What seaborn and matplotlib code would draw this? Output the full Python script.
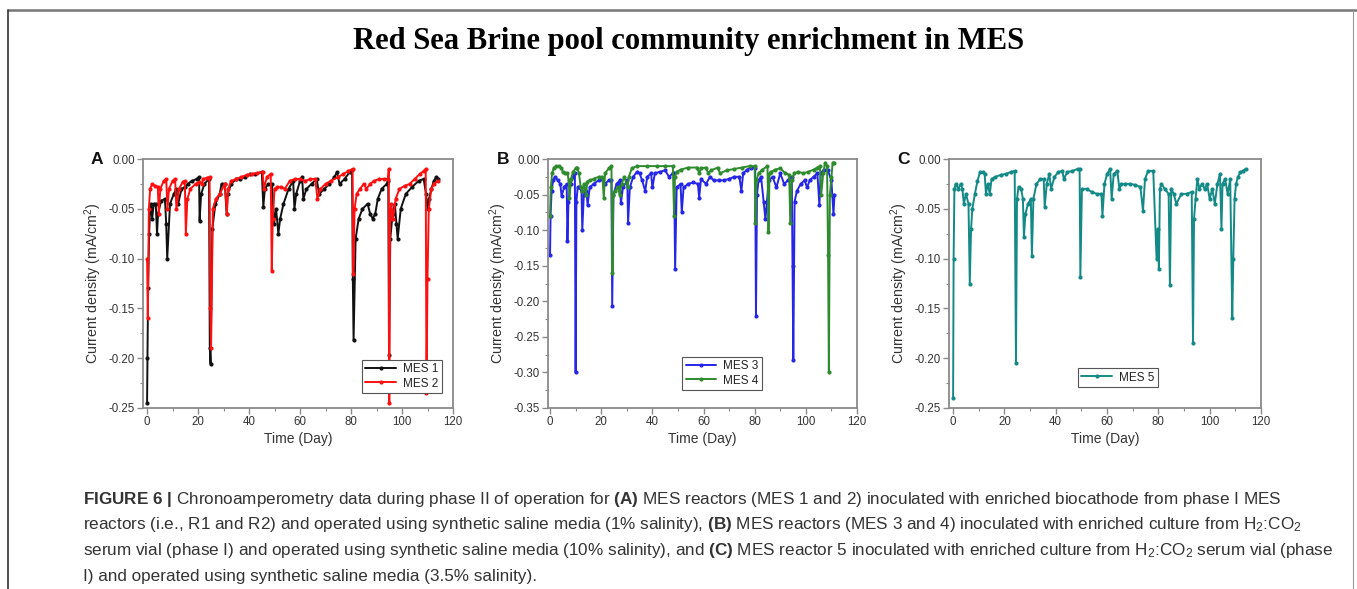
import matplotlib
matplotlib.use("Agg")
import matplotlib.pyplot as plt
from matplotlib.lines import Line2D
from matplotlib.ticker import MultipleLocator
import seaborn as sns
import pandas as pd

# ---------------- data ----------------
title_text = "Red Sea Brine pool community enrichment in MES"
panel_letters = ["A", "B", "C"]
x_ticks = [0, 20, 40, 60, 80, 100, 120]
y_ticks_ac = [0.00, -0.05, -0.10, -0.15, -0.20, -0.25]
y_ticks_b = [0.00, -0.05, -0.10, -0.15, -0.20, -0.25, -0.30, -0.35]

days1 = [0, 0.15, 0.4, 0.8, 1.2, 1.6, 2.0, 2.6, 3.4, 3.9,
         4.3, 5.5, 7.0, 7.5, 7.9, 9.0, 10.5, 11.5, 12.2, 13.5,
         15.0, 16.0, 17.5, 19.5, 20.4, 20.6, 21.2, 22.5, 24.3, 24.6,
         24.9, 25.6, 26.8, 28.5, 29.2, 30.5, 31.2, 31.6, 33.0, 35.0,
         36.5, 38.5, 40.5, 42.5, 45.0, 45.6, 46.2, 47.5, 49.0, 49.8,
         50.6, 51.5, 52.2, 53.5, 55.5, 57.3, 57.8, 58.5, 60.0, 60.8,
         61.3, 62.5, 64.5, 66.5, 67.5, 69.5, 71.5, 73.5, 74.5, 75.5,
         77.5, 79.5, 80.4, 80.7, 81.0, 81.8, 83.0, 84.5, 86.5, 87.5,
         88.5, 89.5, 90.5, 92.0, 94.0, 94.6, 94.9, 95.4, 96.3, 97.2,
         97.8, 98.3, 99.5, 101.5, 104.0, 106.5, 108.5, 109.4, 110.0, 110.6,
         111.5, 112.5, 113.5, 114.2]
cd1 = [-0.245, -0.20, -0.13, -0.075, -0.05, -0.045, -0.06, -0.045, -0.045, -0.075,
       -0.055, -0.042, -0.04, -0.065, -0.10, -0.045, -0.035, -0.03, -0.045, -0.03,
       -0.028, -0.025, -0.022, -0.02, -0.018, -0.062, -0.035, -0.025, -0.02, -0.19,
       -0.206, -0.07, -0.045, -0.035, -0.025, -0.025, -0.055, -0.035, -0.025, -0.02,
       -0.02, -0.018, -0.015, -0.015, -0.013, -0.048, -0.03, -0.025, -0.025, -0.065,
       -0.05, -0.075, -0.06, -0.045, -0.03, -0.022, -0.05, -0.035, -0.022, -0.018,
       -0.04, -0.03, -0.025, -0.02, -0.035, -0.03, -0.025, -0.018, -0.013, -0.025,
       -0.02, -0.013, -0.011, -0.12, -0.182, -0.08, -0.06, -0.05, -0.045, -0.055,
       -0.06, -0.055, -0.04, -0.03, -0.025, -0.022, -0.197, -0.08, -0.055, -0.045,
       -0.065, -0.08, -0.05, -0.035, -0.028, -0.022, -0.02, -0.035, -0.05, -0.04,
       -0.03, -0.022, -0.018, -0.02]

days2 = [0, 0.3, 0.7, 1.2, 2.0, 3.0, 4.2, 4.6, 5.2, 6.5,
         7.5, 8.0, 8.6, 10.0, 11.0, 11.5, 12.5, 14.0, 14.8, 15.2,
         15.8, 17.0, 19.0, 20.5, 21.5, 22.0, 23.5, 24.5, 24.8, 25.1,
         25.8, 27.0, 28.5, 30.5, 31.3, 31.8, 33.0, 35.0, 37.0, 39.0,
         41.0, 43.0, 45.3, 45.8, 47.0, 48.5, 48.9, 49.3, 50.0, 51.0,
         52.5, 54.0, 56.0, 58.0, 60.0, 62.0, 64.0, 66.0, 66.8, 68.0,
         70.0, 72.0, 75.0, 77.0, 79.0, 80.6, 80.9, 81.4, 82.2, 83.5,
         85.0, 86.0, 87.5, 89.0, 91.0, 93.0, 94.5, 94.8, 95.0, 95.3,
         95.8, 96.5, 97.5, 99.0, 101.0, 103.0, 105.0, 107.0, 108.5, 109.3,
         109.6, 110.0, 110.5, 111.5, 112.5, 114.0]
cd2 = [-0.10, -0.16, -0.05, -0.03, -0.025, -0.027, -0.028, -0.055, -0.03, -0.022,
       -0.02, -0.05, -0.03, -0.022, -0.02, -0.05, -0.03, -0.023, -0.022, -0.075,
       -0.04, -0.03, -0.025, -0.023, -0.025, -0.02, -0.019, -0.018, -0.15, -0.19,
       -0.05, -0.04, -0.035, -0.025, -0.055, -0.03, -0.022, -0.02, -0.018, -0.016,
       -0.015, -0.014, -0.013, -0.03, -0.018, -0.015, -0.112, -0.06, -0.03, -0.028,
       -0.028, -0.03, -0.022, -0.02, -0.02, -0.022, -0.02, -0.02, -0.04, -0.03,
       -0.025, -0.022, -0.018, -0.015, -0.012, -0.01, -0.115, -0.05, -0.035, -0.03,
       -0.025, -0.03, -0.025, -0.022, -0.02, -0.02, -0.02, -0.01, -0.245, -0.06,
       -0.045, -0.06, -0.04, -0.03, -0.027, -0.025, -0.02, -0.015, -0.012, -0.01,
       -0.235, -0.12, -0.05, -0.03, -0.025, -0.022]

days3 = [0, 0.2, 0.6, 1.2, 2.0, 3.0, 4.0, 4.5, 5.5, 6.5,
         6.8, 7.2, 8.0, 9.0, 9.7, 10.0, 10.3, 10.8, 11.5, 12.3,
         12.6, 13.2, 14.2, 14.7, 15.5, 17.0, 19.0, 20.5, 21.5, 23.0,
         24.0, 24.3, 24.8, 26.0, 27.3, 27.7, 28.5, 30.2, 30.5, 31.2,
         32.5, 34.0, 35.0, 36.0, 37.2, 38.0, 39.5, 40.0, 41.0, 43.0,
         45.0, 46.5, 48.0, 48.5, 48.9, 49.5, 51.0, 51.5, 52.2, 54.0,
         56.0, 57.8, 58.3, 59.0, 61.0, 62.5, 64.0, 66.0, 68.0, 70.0,
         72.0, 74.0, 74.8, 75.5, 77.0, 78.5, 80.2, 80.5, 80.9, 81.5,
         82.5, 83.5, 84.2, 85.5, 87.0, 88.5, 90.0, 91.5, 93.0, 94.5,
         94.8, 95.1, 95.6, 96.5, 98.0, 99.5, 100.5, 101.5, 103.0, 104.5,
         105.3, 105.8, 107.0, 108.5, 110.0, 110.8, 111.2]
cd3 = [-0.135, -0.08, -0.045, -0.03, -0.025, -0.03, -0.035, -0.052, -0.04, -0.035,
       -0.115, -0.06, -0.035, -0.025, -0.02, -0.30, -0.06, -0.04, -0.04, -0.045,
       -0.10, -0.05, -0.045, -0.065, -0.04, -0.035, -0.03, -0.028, -0.035, -0.03,
       -0.03, -0.207, -0.05, -0.035, -0.03, -0.062, -0.04, -0.03, -0.09, -0.04,
       -0.025, -0.018, -0.02, -0.03, -0.045, -0.025, -0.02, -0.04, -0.02, -0.018,
       -0.016, -0.025, -0.02, -0.02, -0.155, -0.04, -0.035, -0.075, -0.04, -0.035,
       -0.033, -0.035, -0.055, -0.028, -0.035, -0.025, -0.03, -0.03, -0.03, -0.028,
       -0.025, -0.025, -0.045, -0.02, -0.015, -0.012, -0.012, -0.22, -0.05, -0.03,
       -0.025, -0.06, -0.085, -0.03, -0.025, -0.04, -0.02, -0.035, -0.03, -0.025,
       -0.15, -0.283, -0.06, -0.045, -0.035, -0.03, -0.04, -0.03, -0.025, -0.02,
       -0.065, -0.02, -0.015, -0.015, -0.03, -0.078, -0.05]

days4 = [0, 0.3, 0.8, 1.5, 2.5, 3.5, 4.3, 5.0, 6.0, 6.8,
         7.3, 7.6, 8.2, 9.0, 10.0, 10.6, 11.3, 12.0, 12.6, 13.3,
         14.0, 14.6, 15.5, 17.0, 19.0, 20.5, 21.0, 21.5, 23.0, 24.0,
         24.4, 24.7, 25.3, 26.5, 27.2, 28.0, 29.0, 30.3, 30.8, 32.0,
         34.0, 38.0, 42.0, 45.0, 48.0, 48.5, 48.8, 49.5, 51.0, 54.0,
         57.5, 58.3, 59.0, 61.0, 61.8, 63.0, 65.5, 66.5, 69.0, 72.0,
         75.0, 78.0, 80.0, 80.3, 80.7, 81.5, 83.0, 85.0, 85.4, 85.8,
         86.5, 88.0, 90.0, 92.0, 93.5, 93.9, 94.4, 95.5, 97.0, 99.0,
         101.0, 103.0, 104.5, 105.5, 106.0, 106.8, 107.5, 108.3, 108.7, 109.0,
         109.4, 110.0, 110.5, 111.2]
cd4 = [-0.08, -0.04, -0.02, -0.012, -0.01, -0.01, -0.012, -0.018, -0.02, -0.02,
       -0.03, -0.055, -0.028, -0.018, -0.013, -0.012, -0.02, -0.04, -0.045, -0.035,
       -0.05, -0.032, -0.03, -0.028, -0.025, -0.025, -0.055, -0.02, -0.013, -0.01,
       -0.16, -0.05, -0.045, -0.04, -0.05, -0.035, -0.025, -0.04, -0.025, -0.013,
       -0.01, -0.01, -0.01, -0.01, -0.01, -0.08, -0.025, -0.018, -0.015, -0.012,
       -0.012, -0.02, -0.013, -0.012, -0.02, -0.016, -0.012, -0.02, -0.016, -0.014,
       -0.012, -0.01, -0.01, -0.09, -0.03, -0.02, -0.015, -0.01, -0.103, -0.02,
       -0.018, -0.015, -0.013, -0.02, -0.022, -0.09, -0.03, -0.02, -0.018, -0.02,
       -0.018, -0.015, -0.012, -0.01, -0.05, -0.02, -0.005, -0.01, -0.135, -0.30,
       -0.05, -0.025, -0.005, -0.005]

days5 = [0, 0.2, 0.5, 1.0, 2.0, 3.0, 3.6, 4.2, 5.0, 6.0,
         6.5, 7.0, 7.5, 8.5, 9.5, 10.5, 11.5, 12.3, 12.8, 13.5,
         14.3, 15.0, 16.5, 18.5, 20.5, 22.5, 24.0, 24.5, 24.9, 25.5,
         26.5, 27.2, 27.6, 28.2, 29.2, 30.3, 30.7, 31.3, 32.5, 34.0,
         35.3, 35.7, 36.5, 37.5, 38.2, 39.5, 41.0, 42.5, 43.2, 44.5,
         46.5, 48.5, 49.3, 49.6, 50.2, 52.0, 54.0, 56.0, 57.8, 58.2,
         59.0, 60.0, 61.2, 61.8, 62.6, 64.0, 64.8, 65.5, 67.0, 69.0,
         71.0, 73.0, 74.0, 74.8, 76.0, 78.0, 79.3, 79.7, 80.2, 80.6,
         81.2, 82.5, 84.0, 84.5, 85.0, 86.0, 87.0, 89.0, 91.0, 93.0,
         93.5, 93.9, 94.5, 95.2, 96.0, 97.0, 98.0, 99.0, 100.0, 101.0,
         102.0, 103.0, 104.0, 104.6, 105.0, 106.0, 107.0, 108.0, 108.8, 109.2,
         109.7, 110.3, 111.0, 112.0, 113.0, 114.0]
cd5 = [-0.24, -0.10, -0.03, -0.025, -0.03, -0.025, -0.03, -0.045, -0.035, -0.045,
       -0.125, -0.07, -0.05, -0.035, -0.022, -0.013, -0.013, -0.015, -0.035, -0.025,
       -0.035, -0.02, -0.018, -0.016, -0.015, -0.013, -0.012, -0.205, -0.04, -0.028,
       -0.03, -0.04, -0.078, -0.055, -0.045, -0.04, -0.097, -0.04, -0.025, -0.02,
       -0.02, -0.048, -0.025, -0.015, -0.03, -0.018, -0.013, -0.012, -0.02, -0.013,
       -0.012, -0.01, -0.01, -0.118, -0.03, -0.03, -0.033, -0.035, -0.035, -0.057,
       -0.025, -0.015, -0.01, -0.04, -0.015, -0.012, -0.03, -0.025, -0.025, -0.025,
       -0.026, -0.028, -0.052, -0.02, -0.012, -0.012, -0.1, -0.07, -0.11, -0.03,
       -0.025, -0.03, -0.035, -0.127, -0.03, -0.035, -0.045, -0.035, -0.035, -0.033,
       -0.185, -0.06, -0.04, -0.02, -0.03, -0.025, -0.03, -0.025, -0.04, -0.03,
       -0.045, -0.025, -0.015, -0.07, -0.025, -0.02, -0.035, -0.02, -0.16, -0.1,
       -0.04, -0.025, -0.018, -0.013, -0.012, -0.01]

series_names = ["MES 1", "MES 2", "MES 3", "MES 4", "MES 5"]
series_colors = ["#111111", "#ff1010", "#2626e6", "#2e8b2e", "#138a85"]

caption_lines = [
    r"$\mathbf{FIGURE\ 6\ |}$ Chronoamperometry data during phase II of operation for $\mathbf{(A)}$ MES reactors (MES 1 and 2) inoculated with enriched biocathode from phase I MES",
    r"reactors (i.e., R1 and R2) and operated using synthetic saline media (1% salinity), $\mathbf{(B)}$ MES reactors (MES 3 and 4) inoculated with enriched culture from H$_2$:CO$_2$",
    r"serum vial (phase I) and operated using synthetic saline media (10% salinity), and $\mathbf{(C)}$ MES reactor 5 inoculated with enriched culture from H$_2$:CO$_2$ serum vial (phase",
    r"I) and operated using synthetic saline media (3.5% salinity).",
]

# ---------------- style ----------------
sns.set_style("ticks")
plt.rcParams["font.family"] = ["Liberation Sans", "DejaVu Sans"]
plt.rcParams["mathtext.fontset"] = "custom"
plt.rcParams["mathtext.rm"] = "Liberation Sans"
plt.rcParams["mathtext.it"] = "Liberation Sans:italic"
plt.rcParams["mathtext.bf"] = "Liberation Sans:bold"
plt.rcParams["mathtext.default"] = "regular"

W, H = 1357, 589
fig = plt.figure(figsize=(W / 100, H / 100), dpi=100)
fig.patch.set_facecolor("white")


def px_axes(l, r, t, b):
    return fig.add_axes([l / W, 1 - b / H, (r - l) / W, (b - t) / H])


axA = px_axes(143, 453, 159, 408)
axB = px_axes(548, 857, 159, 408)
axC = px_axes(949, 1261, 159, 408)

panels = [
    (axA, [(days1, cd1, 0), (days2, cd2, 1)], (-1.6, 120), (-0.25, 0.0), y_ticks_ac,
     dict(loc="lower left", bbox_to_anchor=(0.706, 0.06))),
    (axB, [(days3, cd3, 2), (days4, cd4, 3)], (-0.8, 120), (-0.35, 0.0), y_ticks_b,
     dict(loc="lower left", bbox_to_anchor=(0.434, 0.072))),
    (axC, [(days5, cd5, 4)], (-1.6, 120), (-0.25, 0.0), y_ticks_ac,
     dict(loc="lower left", bbox_to_anchor=(0.413, 0.084))),
]

spine_col = "#8a8a8a"
for ax, series, xlim, ylim, yticks, legkw in panels:
    for d, v, i in series:
        df = pd.DataFrame({"Time (Day)": d, "cd": v})
        sns.lineplot(data=df, x="Time (Day)", y="cd", ax=ax, estimator=None, sort=False,
                     color=series_colors[i], label=series_names[i], linewidth=1.4,
                     marker="o", markersize=3.0, markeredgewidth=0,
                     markerfacecolor=series_colors[i])
    ax.set_xlim(*xlim)
    ax.set_ylim(*ylim)
    ax.set_xticks(x_ticks)
    ax.set_yticks(yticks)
    ax.xaxis.set_minor_locator(MultipleLocator(10))
    ax.yaxis.set_minor_locator(MultipleLocator(0.025))
    ax.set_xticklabels([str(t) for t in x_ticks])
    ax.set_yticklabels([f"{t:.2f}" for t in yticks])
    ax.tick_params(axis="both", which="major", direction="out", length=4, width=1,
                   color=spine_col, labelsize=8.3, labelcolor="#333333", pad=2)
    ax.tick_params(axis="both", which="minor", direction="out", length=2.2, width=0.8,
                   color=spine_col)
    for s in ax.spines.values():
        s.set_visible(True)
        s.set_color(spine_col)
        s.set_linewidth(1.3)
    ax.set_xlabel("Time (Day)", fontsize=10, color="#333333", labelpad=3)
    ax.set_ylabel("Current density (mA/cm$^2$)", fontsize=10.3, color="#333333", labelpad=3)
    h, lab = ax.get_legend_handles_labels()
    leg = ax.legend(h, lab, fontsize=8.5, frameon=True, fancybox=False, framealpha=1,
                    edgecolor="#555555", handlelength=2.6, handletextpad=0.6,
                    borderpad=0.3, labelspacing=0.2, borderaxespad=0, **legkw)
    leg.get_frame().set_linewidth(0.8)
    for t in leg.get_texts():
        t.set_color("#222222")

# panel letters
for ax_x, letter in zip([97, 503, 903], panel_letters):
    fig.text(ax_x / W, 1 - 160 / H, letter, fontsize=12.5, fontweight="bold",
             ha="center", va="center", color="#111111")

# title
fig.text(689 / W, 1 - 41 / H, title_text, fontsize=22.1, fontweight="bold",
         family=["Liberation Serif", "DejaVu Serif"], ha="center", va="center", color="black")

# caption
for k, line in enumerate(caption_lines):
    fig.text(83 / W, 1 - (504 + 25.5 * k) / H, line, fontsize=12.3, color="#333333",
             ha="left", va="baseline")

# page frame
fig.add_artist(Line2D([7.5 / W, 1.0], [1 - 9.5 / H, 1 - 9.5 / H], transform=fig.transFigure,
                      color="#777777", linewidth=1.8))
fig.add_artist(Line2D([7.5 / W, 7.5 / W], [1 - 9.5 / H, 0], transform=fig.transFigure,
                      color="#333333", linewidth=1.2))
fig.add_artist(Line2D([1352.5 / W, 1352.5 / W], [1 - 9.5 / H, 0], transform=fig.transFigure,
                      color="#999999", linewidth=0.8))

fig.savefig("out.png", dpi=100, facecolor="white")
